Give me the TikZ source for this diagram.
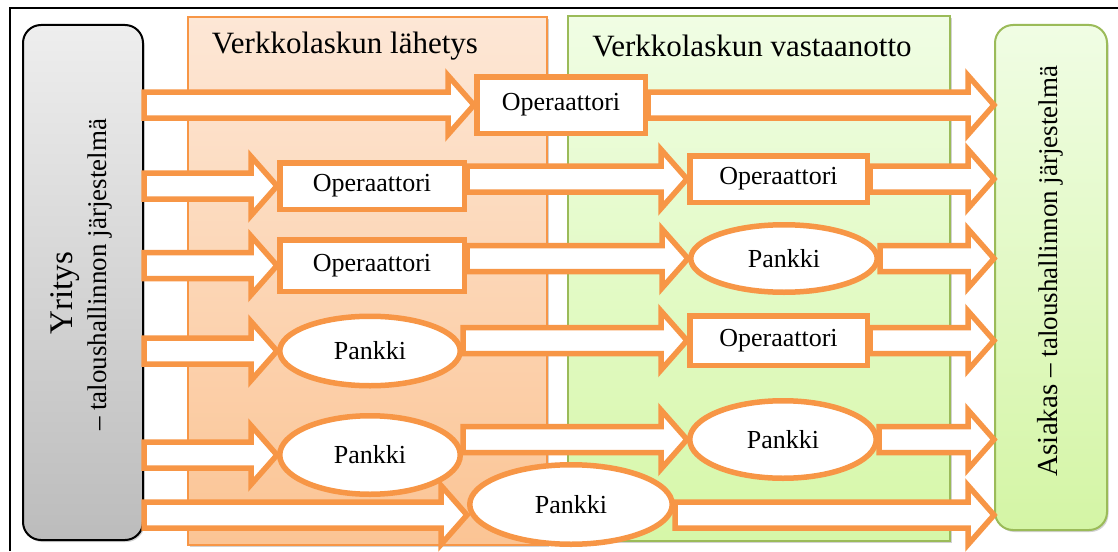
\documentclass[tikz,border=0pt]{standalone}
\usepackage{fontspec}
\setmainfont{Liberation Serif}
\usepackage{tikz}
\usetikzlibrary{calc}
\usetikzlibrary{positioning, shapes.geometric, fit}
\usetikzlibrary{shadows}

\definecolor{flowOrange}{RGB}{247,150,70}
\definecolor{leafGreen}{RGB}{155,187,89}

\begin{document}
\begin{tikzpicture}[
    x=1pt, y=-1pt,
    % Define styles for the two big phases and the two end systems
    panel_send/.style={rectangle, draw=flowOrange, line width=2.5pt, inner sep=0pt,
        top color={rgb,255:red,253;green,231;blue,214}, bottom color={rgb,255:red,251;green,196;blue,148},
        drop shadow={shadow xshift=1.5pt, shadow yshift=-2pt, opacity=0.35}},
    panel_recv/.style={rectangle, draw=leafGreen, line width=2pt, inner sep=0pt,
        top color={rgb,255:red,240;green,253;blue,228}, bottom color={rgb,255:red,214;green,247;blue,168},
        drop shadow={shadow xshift=1.5pt, shadow yshift=-2pt, opacity=0.35}},
    sys_firm/.style={rectangle, rounded corners=18pt, draw=black, line width=2pt, inner sep=0pt,
        top color={rgb,255:red,238;green,238;blue,238}, bottom color={rgb,255:red,188;green,188;blue,188},
        drop shadow={shadow xshift=1.5pt, shadow yshift=-2pt, opacity=0.35}},
    sys_client/.style={rectangle, rounded corners=18pt, draw=leafGreen, line width=2pt, inner sep=0pt,
        top color={rgb,255:red,240;green,253;blue,228}, bottom color={rgb,255:red,212;green,245;blue,165},
        drop shadow={shadow xshift=1.5pt, shadow yshift=-2pt, opacity=0.35}},
    % Define styles for the two kinds of service providers
    v_oper/.style={rectangle, draw=flowOrange, line width=5.5pt, fill=white, inner sep=0pt, font=\fontsize{26}{30}\selectfont},
    v_bank/.style={ellipse, draw=flowOrange, line width=5.5pt, fill=white, inner sep=0pt, font=\fontsize{26}{30}\selectfont},
    % Define block arrow style
    flow/.style={draw=flowOrange, line width=5.5pt, fill=white, line join=miter},
    title/.style={inner sep=0pt, font=\fontsize{31}{36}\selectfont}
]

    % --- Configuration ---
    \def\shaftHalf{13}    % Half height of an arrow shaft
    \def\headHalf{29.5}   % Half height of an arrow head
    \def\headLen{26}      % Length of an arrow head

    % --- Helper Macro for Block Arrows ---
    % Arguments: (tail node, head node, node or coordinate giving the row)
    \newcommand{\flowarrow}[3]{
        \draw[flow] ($(#1.east |- #3)+(0,-\shaftHalf)$)
            -- ($(#2.west |- #3)+(-\headLen,-\shaftHalf)$)
            -- ($(#2.west |- #3)+(-\headLen,-\headHalf)$)
            -- (#2.west |- #3)
            -- ($(#2.west |- #3)+(-\headLen,\headHalf)$)
            -- ($(#2.west |- #3)+(-\headLen,\shaftHalf)$)
            -- ($(#1.east |- #3)+(0,\shaftHalf)$) -- cycle;
    }

    \useasboundingbox (0,0) rectangle (1118,551);
    \fill[white] (0,0) rectangle (1118,551);
    \draw[line width=2pt] (10,551) -- (10,8) -- (1118,8);

    % --- The two phases ---
    \node[panel_send, minimum width=359pt, minimum height=528pt] (Send) at (367.5,281) {};
    \node[panel_recv, minimum width=382pt, minimum height=525pt] (Recv) at (759,278.5) {};
    \node[title] (SendTitle) at (345,46) {Verkkolaskun lähetys};
    \node[title] (RecvTitle) at (752,46) {Verkkolaskun vastaanotto};

    % --- The two end systems ---
    \node[sys_firm, minimum width=120pt, minimum height=515pt] (Yr) at (83,282.5) {};
    \node[rotate=90, inner sep=0pt, font=\fontsize{33}{36}\selectfont] (YrName) at (65,293) {Yritys};
    \node[rotate=90, inner sep=0pt, font=\fontsize{27}{30}\selectfont] (YrSub) at (100,275) {– taloushallinnon järjestelmä};

    \node[sys_client, minimum width=112pt, minimum height=505pt] (As) at (1051,277.5) {};
    \node[rotate=90, inner sep=0pt, font=\fontsize{27}{30}\selectfont] (AsText) at (1050,271)
        {{\fontsize{29}{32}\selectfont Asiakas} – taloushallinnon järjestelmä};

    % ================= SERVICE PROVIDERS =================
    % Row 1 and row 6 sit across both phases
    \node[v_oper, minimum width=168.5pt, minimum height=56.5pt] (M1) at (561,105) {Operaattori};
    \node[v_bank, minimum width=202.5pt, minimum height=79.5pt] (M6) at (571,504.5) {Pankki};
    \coordinate (row6) at (0,515);

    % Sending side
    \node[v_oper, minimum width=184.5pt, minimum height=46.5pt] (L2) at (372,186) {Operaattori};
    \node[v_oper, minimum width=184.5pt, minimum height=51.5pt] (L3) at (372,265.5) {Operaattori};
    \node[v_bank, minimum width=180.5pt, minimum height=69.5pt] (L4) at (370,351) {Pankki};
    \node[v_bank, minimum width=180.5pt, minimum height=78.5pt] (L5) at (370,455) {Pankki};

    % Receiving side
    \node[v_oper, minimum width=177.5pt, minimum height=46.5pt] (R2) at (778.5,179) {Operaattori};
    \node[v_bank, minimum width=186.5pt, minimum height=67.5pt] (R3) at (784,258.5) {Pankki};
    \node[v_oper, minimum width=177.5pt, minimum height=49.5pt] (R4) at (778.5,340.5) {Operaattori};
    \node[v_bank, minimum width=186.5pt, minimum height=77.5pt] (R5) at (783,439.5) {Pankki};

    % --- Connect the rows ---
    % 1. Firm -> provider
    \flowarrow{Yr}{M1}{M1}
    \flowarrow{Yr}{L2}{L2}
    \flowarrow{Yr}{L3}{L3}
    \flowarrow{Yr}{L4}{L4}
    \flowarrow{Yr}{L5}{L5}
    \flowarrow{Yr}{M6}{row6}
    % 2. Sending provider -> receiving provider
    \flowarrow{L2}{R2}{R2}
    \flowarrow{L3}{R3}{R3}
    \flowarrow{L4}{R4}{R4}
    \flowarrow{L5}{R5}{R5}
    % 3. Provider -> client
    \flowarrow{M1}{As}{M1}
    \flowarrow{R2}{As}{R2}
    \flowarrow{R3}{As}{R3}
    \flowarrow{R4}{As}{R4}
    \flowarrow{R5}{As}{R5}
    \flowarrow{M6}{As}{row6}

\end{tikzpicture}
\end{document}
